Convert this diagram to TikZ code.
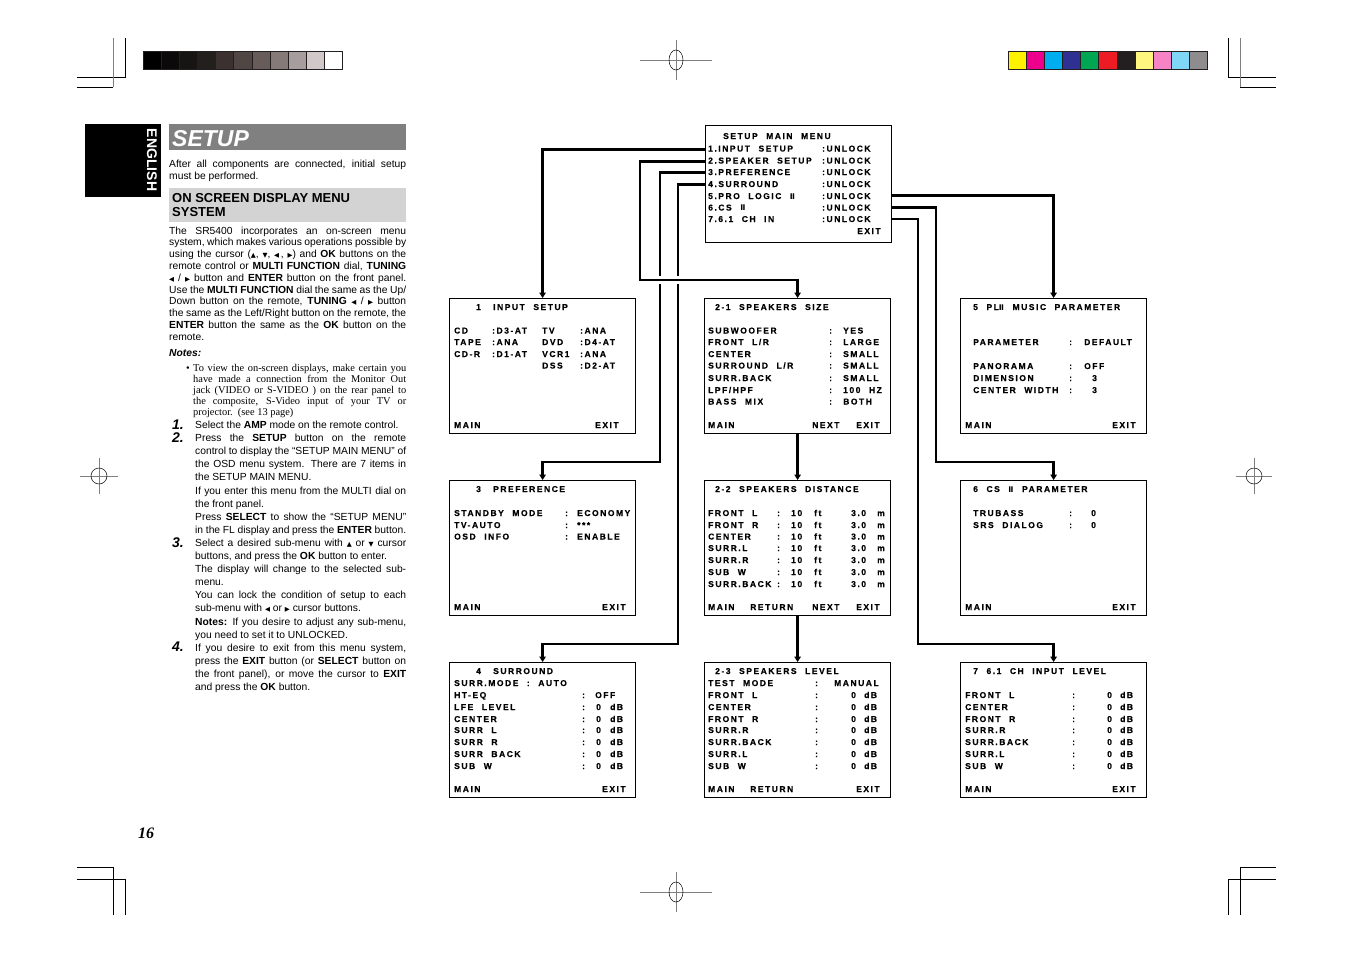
\documentclass[tikz,border=0pt]{standalone}
\usepackage{fontspec}
\setmainfont{Liberation Sans}
\newfontfamily\osdfont{Liberation Sans}[LetterSpace=18, WordSpace=2.2, FakeBold=0.5]
\newfontfamily\seriffont{Liberation Serif}
\newfontfamily\symfont{DejaVu Sans}
\usetikzlibrary{arrows.meta}
\definecolor{barb}{HTML}{231F20}
\definecolor{g0}{HTML}{000000}\definecolor{g1}{HTML}{0B0909}\definecolor{g2}{HTML}{171414}
\definecolor{g3}{HTML}{231F1C}\definecolor{g4}{HTML}{3A3130}\definecolor{g5}{HTML}{504644}
\definecolor{g6}{HTML}{675C5A}\definecolor{g7}{HTML}{857A78}\definecolor{g8}{HTML}{A79D9C}
\definecolor{g9}{HTML}{D1C8C8}\definecolor{g10}{HTML}{FFFFFF}
\definecolor{c0}{HTML}{FFF200}\definecolor{c1}{HTML}{EC008C}\definecolor{c2}{HTML}{00AEEF}
\definecolor{c3}{HTML}{2E3192}\definecolor{c4}{HTML}{00A651}\definecolor{c5}{HTML}{ED1C24}
\definecolor{c6}{HTML}{231F20}\definecolor{c7}{HTML}{FFF67F}\definecolor{c8}{HTML}{F583C5}
\definecolor{c9}{HTML}{7FD6F7}\definecolor{c10}{HTML}{8E8C8D}
\definecolor{titlegray}{HTML}{808080}
\definecolor{headgray}{HTML}{D3D3D3}
\newcounter{tn}
\newcommand\PT[3]{\stepcounter{tn}\node[#1] (t\arabic{tn}) at (#2) {#3};}
\newcommand\JA[1]{\makebox[237pt][s]{\spaceskip=0.278em plus 2em minus 0.14em #1}}
\newcommand\JB[1]{\makebox[213pt][s]{\spaceskip=0.25em plus 2em minus 0.12em #1}}
\newcommand\JC[1]{\makebox[211pt][s]{\spaceskip=0.278em plus 2em minus 0.14em #1}}
\newcommand\rII{{\symfont\bfseries\fontsize{7.8}{7.8}\selectfont Ⅱ}}
\newcommand\tup{{\symfont\fontsize{6.5}{6.5}\selectfont ▲}}
\newcommand\tdn{{\symfont\fontsize{6.5}{6.5}\selectfont ▼}}
\newcommand\tlt{{\symfont\fontsize{6.5}{6.5}\selectfont ◀}}
\newcommand\trt{{\symfont\fontsize{6.5}{6.5}\selectfont ▶}}
\tikzset{
 osd/.style={anchor=base west, inner sep=0pt, font=\osdfont\bfseries\fontsize{8.5}{8.5}\selectfont},
 bodytxt/.style={anchor=base west, inner sep=0pt, font=\fontsize{10.3}{11}\selectfont},
 sertxt/.style={anchor=base west, inner sep=0pt, font=\seriffont\fontsize{10.4}{11}\selectfont},
 stepnum/.style={anchor=base west, inner sep=0pt, font=\bfseries\itshape\fontsize{14}{14}\selectfont},
 menubox/.style={draw, line width=1.2pt, anchor=north west, inner sep=0pt, minimum width=186pt, minimum height=135pt},
 conn/.style={line width=2.4pt, -{Triangle[length=5.5pt,width=6.5pt]}},
 cropline/.style={line width=0.8pt},
 cropgray/.style={line width=0.8pt, gray},
}
\begin{document}
\begin{tikzpicture}[x=1pt,y=-1pt]
\useasboundingbox (0,0) rectangle (1353,954);
\fill[white] (0,0) rectangle (1353,954);
% crop marks
\draw[cropline] (77,77) -- (125,77) -- (125,38);
\draw[cropgray] (113,38) -- (113,87);
\draw[cropline] (77,87) -- (113,87);
\draw[cropline] (1276,77) -- (1228,77) -- (1228,38);
\draw[cropgray] (1240,38) -- (1240,87);
\draw[cropline] (1240,87) -- (1276,87);
\draw[cropline] (77,867) -- (113,867) -- (113,915);
\draw[cropline] (77,879) -- (125,879) -- (125,915);
\draw[cropline] (1276,867) -- (1240,867) -- (1240,915);
\draw[cropline] (1276,879) -- (1228,879) -- (1228,915);
% registration marks
\draw[cropgray] (640,60) -- (712,60) (676,40) -- (676,80);
\draw[line width=0.5pt] (676,60) ellipse [x radius=7, y radius=10];
\draw[cropgray] (640,892) -- (712,892) (676,872) -- (676,912);
\draw[line width=0.5pt] (676,892) ellipse [x radius=7, y radius=10];
\draw[cropgray] (80,476) -- (118,476) (99,458) -- (99,494);
\draw[line width=0.5pt] (99,476) circle [radius=8];
\draw[cropgray] (1236,476) -- (1272,476) (1254,458) -- (1254,494);
\draw[line width=0.5pt] (1254,476) circle [radius=8];
% colour bars
\foreach \i in {0,...,10} {
  \fill[g\i] (143+\i*18.18,51) rectangle ++(18.18,18);
  \draw[barb, line width=1pt] (143+\i*18.18,51) rectangle ++(18.18,18);
  \fill[c\i] (1008+\i*18.18,51) rectangle ++(18.18,18);
  \draw[barb, line width=1pt] (1008+\i*18.18,51) rectangle ++(18.18,18);
}
% ENGLISH tab
\fill[black] (85,124) rectangle (161,197);
\node[rotate=-90, text=white, font=\bfseries\fontsize{14}{14}\selectfont, inner sep=0pt] (english) at (152,160) {ENGLISH};
% SETUP title
\fill[titlegray] (169,124) rectangle (406,150);
\node[anchor=base west, inner sep=0pt, text=white, font=\bfseries\itshape\fontsize{23}{23}\selectfont] (setuptitle) at (172,146) {SETUP};
\PT{bodytxt}{169,167.5}{\JA{After all components are connected, initial setup}}
\PT{bodytxt}{169,179.5}{must be performed.}
\fill[headgray] (169,188) rectangle (406,222);
\PT{bodytxt,font=\bfseries\fontsize{13}{13}\selectfont}{172,202.5}{ON SCREEN DISPLAY MENU}
\PT{bodytxt,font=\bfseries\fontsize{13}{13}\selectfont}{172,216.5}{SYSTEM}
\PT{bodytxt}{169,234}{\JA{The SR5400 incorporates an on-screen menu}}
\PT{bodytxt}{169,245.8}{\JA{system, which makes various operations possible by}}
\PT{bodytxt}{169,257.6}{\JA{using the cursor (\tup, \tdn, \tlt\,, \trt) and \textbf{OK} buttons on the}}
\PT{bodytxt}{169,269.4}{\JA{remote control or \textbf{MULTI FUNCTION} dial, \textbf{TUNING}}}
\PT{bodytxt}{169,281.2}{\JA{\tlt\ / \trt\ button and \textbf{ENTER} button on the front panel.}}
\PT{bodytxt}{169,293}{\JA{Use the \textbf{MULTI FUNCTION} dial the same as the Up/}}
\PT{bodytxt}{169,304.8}{\JA{Down button on the remote, \textbf{TUNING} \tlt\ / \trt\ button}}
\PT{bodytxt}{169,316.6}{\JA{the same as the Left/Right button on the remote, the}}
\PT{bodytxt}{169,328.4}{\JA{\textbf{ENTER} button the same as the \textbf{OK} button on the}}
\PT{bodytxt}{169,340.2}{remote.}
\PT{bodytxt,font=\bfseries\itshape\fontsize{10.3}{11}\selectfont}{169,356.5}{Notes:}
\PT{sertxt}{186,371}{•}
\PT{sertxt}{193,371}{\JB{To view the on-screen displays, make certain you}}
\PT{sertxt}{193,382.2}{\JB{have made a connection from the Monitor Out}}
\PT{sertxt}{193,393.4}{\JB{jack (VIDEO or S-VIDEO ) on the rear panel to}}
\PT{sertxt}{193,404.6}{\JB{the composite, S-Video input of your TV or}}
\PT{sertxt}{193,415.8}{projector.\ \ (see 13 page)}
% steps
\PT{stepnum}{172,429}{1.}
\PT{stepnum}{172,442}{2.}
\PT{stepnum}{172,547}{3.}
\PT{stepnum}{172,651}{4.}
\PT{bodytxt}{195,428.5}{Select the \textbf{AMP} mode on the remote control.}
\PT{bodytxt}{195,441.6}{\JC{Press the \textbf{SETUP} button on the remote}}
\PT{bodytxt}{195,454.7}{\JC{control to display the “SETUP MAIN MENU” of}}
\PT{bodytxt}{195,467.8}{\JC{the OSD menu system. There are 7 items in}}
\PT{bodytxt}{195,480.9}{the SETUP MAIN MENU.}
\PT{bodytxt}{195,494}{\JC{If you enter this menu from the MULTI dial on}}
\PT{bodytxt}{195,507.1}{the front panel.}
\PT{bodytxt}{195,520.2}{\JC{Press \textbf{SELECT} to show the “SETUP MENU”}}
\PT{bodytxt}{195,533.3}{\JC{in the FL display and press the \textbf{ENTER} button.}}
\PT{bodytxt}{195,546.4}{\JC{Select a desired sub-menu with \tup\ or \tdn\ cursor}}
\PT{bodytxt}{195,559.5}{buttons, and press the \textbf{OK} button to enter.}
\PT{bodytxt}{195,572.6}{\JC{The display will change to the selected sub-}}
\PT{bodytxt}{195,585.7}{menu.}
\PT{bodytxt}{195,598.8}{\JC{You can lock the condition of setup to each}}
\PT{bodytxt}{195,611.9}{sub-menu with \tlt\ or \trt\ cursor buttons.}
\PT{bodytxt}{195,625}{\JC{\textbf{Notes:} If you desire to adjust any sub-menu,}}
\PT{bodytxt}{195,638.1}{you need to set it to UNLOCKED.}
\PT{bodytxt}{195,651.2}{\JC{If you desire to exit from this menu system,}}
\PT{bodytxt}{195,664.3}{\JC{press the \textbf{EXIT} button (or \textbf{SELECT} button on}}
\PT{bodytxt}{195,677.4}{\JC{the front panel), or move the cursor to \textbf{EXIT}}}
\PT{bodytxt}{195,690.5}{and press the \textbf{OK} button.}
\PT{bodytxt,font=\seriffont\bfseries\itshape\fontsize{16}{16}\selectfont}{138,838}{16}
% ---- menu boxes ----
\node[menubox, minimum height=117pt] (main) at (705,125) {};
\node[menubox] (b1) at (449,298) {};
\node[menubox] (b21) at (704,298) {};
\node[menubox] (b5) at (960,298) {};
\node[menubox] (b3) at (449,480) {};
\node[menubox] (b22) at (704,480) {};
\node[menubox] (b6) at (960,480) {};
\node[menubox] (b4) at (449,662) {};
\node[menubox] (b23) at (704,662) {};
\node[menubox] (b7) at (960,662) {};
% main menu text
\PT{osd}{723,139}{SETUP MAIN MENU}
\PT{osd}{708,151.5}{1.INPUT SETUP}
\PT{osd}{708,163.5}{2.SPEAKER SETUP}
\PT{osd}{708,175}{3.PREFERENCE}
\PT{osd}{708,187}{4.SURROUND}
\PT{osd}{708,199}{5.PRO LOGIC \rII}
\PT{osd}{708,210.5}{6.CS \rII}
\PT{osd}{708,222}{7.6.1 CH IN}
\PT{osd}{822,151.5}{:UNLOCK}
\PT{osd}{822,163.5}{:UNLOCK}
\PT{osd}{822,175}{:UNLOCK}
\PT{osd}{822,187}{:UNLOCK}
\PT{osd}{822,199}{:UNLOCK}
\PT{osd}{822,210.5}{:UNLOCK}
\PT{osd}{822,222}{:UNLOCK}
\PT{osd}{857,234}{EXIT}
% box 1
\PT{osd}{476,310}{1}
\PT{osd}{493,310}{INPUT SETUP}
\PT{osd}{454,333.5}{CD}
\PT{osd}{454,345}{TAPE}
\PT{osd}{454,357}{CD-R}
\PT{osd}{492,333.5}{:D3-AT}
\PT{osd}{492,345}{:ANA}
\PT{osd}{492,357}{:D1-AT}
\PT{osd}{542,333.5}{TV}
\PT{osd}{542,345}{DVD}
\PT{osd}{542,357}{VCR1}
\PT{osd}{542,368.5}{DSS}
\PT{osd}{580,333.5}{:ANA}
\PT{osd}{580,345}{:D4-AT}
\PT{osd}{580,357}{:ANA}
\PT{osd}{580,368.5}{:D2-AT}
\PT{osd}{454,428}{MAIN}
\PT{osd}{595,428}{EXIT}
% box 2-1
\PT{osd}{715,310}{2-1 SPEAKERS SIZE}
\PT{osd}{708,333.5}{SUBWOOFER}
\PT{osd}{708,345}{FRONT L/R}
\PT{osd}{708,357}{CENTER}
\PT{osd}{708,368.5}{SURROUND L/R}
\PT{osd}{708,381}{SURR.BACK}
\PT{osd}{708,393}{LPF/HPF}
\PT{osd}{708,404.5}{BASS MIX}
\foreach \yy/\vv in {333.5/YES,345/LARGE,357/SMALL,368.5/SMALL,381/SMALL,393/100 HZ,404.5/BOTH} {
  \PT{osd}{829,\yy}{:}
  \PT{osd}{843,\yy}{\vv}
}
\PT{osd}{708,428}{MAIN}
\PT{osd}{812,428}{NEXT}
\PT{osd}{856,428}{EXIT}
% box 5
\PT{osd}{973,310}{5 PL\rII\ MUSIC PARAMETER}
\PT{osd}{973,345}{PARAMETER}
\PT{osd}{973,369}{PANORAMA}
\PT{osd}{973,381}{DIMENSION}
\PT{osd}{973,393}{CENTER WIDTH}
\PT{osd}{1069,345}{:}
\PT{osd}{1069,369}{:}
\PT{osd}{1069,381}{:}
\PT{osd}{1069,393}{:}
\PT{osd}{1084,345}{DEFAULT}
\PT{osd}{1084,369}{OFF}
\PT{osd}{1092,381}{3}
\PT{osd}{1092,393}{3}
\PT{osd}{965,428}{MAIN}
\PT{osd}{1112,428}{EXIT}
% box 3
\PT{osd}{476,492}{3}
\PT{osd}{493,492}{PREFERENCE}
\PT{osd}{454,516}{STANDBY MODE}
\PT{osd}{454,528}{TV-AUTO}
\PT{osd}{454,539.5}{OSD INFO}
\PT{osd}{565,516}{:}
\PT{osd}{565,528}{:}
\PT{osd}{565,539.5}{:}
\PT{osd}{577,516}{ECONOMY}
\PT{osd}{577,528}{***}
\PT{osd}{577,539.5}{ENABLE}
\PT{osd}{454,610}{MAIN}
\PT{osd}{602,610}{EXIT}
% box 2-2
\PT{osd}{715,492}{2-2 SPEAKERS DISTANCE}
\foreach \yy/\ll in {516/FRONT L,528/FRONT R,539.5/CENTER,551/SURR.L,563/SURR.R,575/SUB W,587/SURR.BACK} {
  \PT{osd}{708,\yy}{\ll}
  \PT{osd}{777,\yy}{:}
  \PT{osd}{791,\yy}{10}
  \PT{osd}{814,\yy}{ft}
  \PT{osd}{851,\yy}{3.0}
  \PT{osd}{877,\yy}{m}
}
\PT{osd}{708,610}{MAIN}
\PT{osd}{750,610}{RETURN}
\PT{osd}{812,610}{NEXT}
\PT{osd}{856,610}{EXIT}
% box 6
\PT{osd}{973,492}{6 CS \rII\ PARAMETER}
\PT{osd}{973,516}{TRUBASS}
\PT{osd}{973,528}{SRS DIALOG}
\PT{osd}{1069,516}{:}
\PT{osd}{1069,528}{:}
\PT{osd}{1091,516}{0}
\PT{osd}{1091,528}{0}
\PT{osd}{965,610}{MAIN}
\PT{osd}{1112,610}{EXIT}
% box 4
\PT{osd}{476,674}{4}
\PT{osd}{493,674}{SURROUND}
\PT{osd}{454,686}{SURR.MODE : AUTO}
\PT{osd}{454,698}{HT-EQ}
\PT{osd}{582,698}{:}
\PT{osd}{595,698}{OFF}
\foreach \yy/\ll in {710/LFE LEVEL,722/CENTER,733/SURR L,745/SURR R,757/SURR BACK,769/SUB W} {
  \PT{osd}{454,\yy}{\ll}
  \PT{osd}{582,\yy}{:}
  \PT{osd}{596,\yy}{0}
  \PT{osd}{610,\yy}{dB}
}
\PT{osd}{454,792}{MAIN}
\PT{osd}{602,792}{EXIT}
% box 2-3
\PT{osd}{715,674}{2-3 SPEAKERS LEVEL}
\PT{osd}{708,686}{TEST MODE}
\PT{osd}{815,686}{:}
\PT{osd}{834,686}{MANUAL}
\foreach \yy/\ll in {698/FRONT L,710/CENTER,722/FRONT R,733/SURR.R,745/SURR.BACK,757/SURR.L,769/SUB W} {
  \PT{osd}{708,\yy}{\ll}
  \PT{osd}{815,\yy}{:}
  \PT{osd}{851,\yy}{0}
  \PT{osd}{864,\yy}{dB}
}
\PT{osd}{708,792}{MAIN}
\PT{osd}{750,792}{RETURN}
\PT{osd}{856,792}{EXIT}
% box 7
\PT{osd}{973,674}{7 6.1 CH INPUT LEVEL}
\foreach \yy/\ll in {698/FRONT L,710/CENTER,722/FRONT R,733/SURR.R,745/SURR.BACK,757/SURR.L,769/SUB W} {
  \PT{osd}{965,\yy}{\ll}
  \PT{osd}{1072,\yy}{:}
  \PT{osd}{1107,\yy}{0}
  \PT{osd}{1120,\yy}{dB}
}
\PT{osd}{965,792}{MAIN}
\PT{osd}{1112,792}{EXIT}
% connectors
\coordinate (r1) at (705,149.3);
\coordinate (r2) at (705,161.5);
\coordinate (r3) at (705,172.3);
\coordinate (r4) at (705,184.3);
\coordinate (r5) at (891,195.5);
\coordinate (r6) at (891,207.3);
\coordinate (r7) at (891,218.7);
\draw[conn] (r1) -| (b1.north);
\draw[conn] (r3) -| (660,462) -| (b3.north);
\draw[conn] (r4) -| (678,644) -| (b4.north);
\draw[white, line width=8pt] (652,280) -- (686,280);
\draw[conn] (r2) -| (640,280) -| (b21.north);
\draw[conn] (r5) -| (b5.north);
\draw[conn] (r6) -| (936,462) -| (b6.north);
\draw[conn] (r7) -| (918,644) -| (b7.north);
\draw[conn] (b21.south) -- (b22.north);
\draw[conn] (b22.south) -- (b23.north);
\end{tikzpicture}
\end{document}
